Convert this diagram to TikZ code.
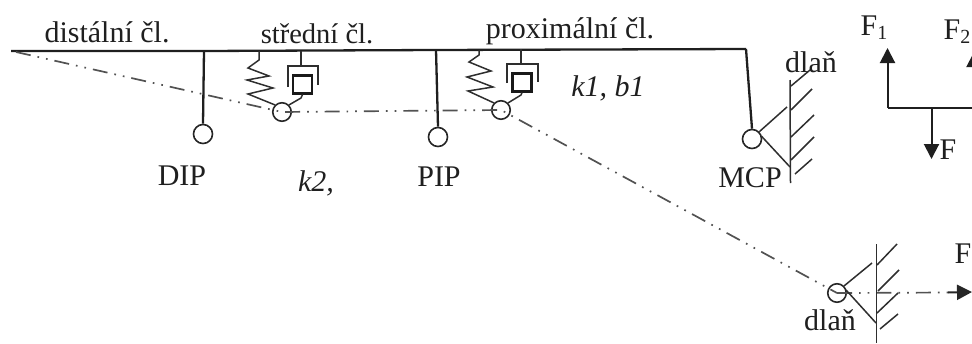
\documentclass[tikz,border=0pt]{standalone}
\usepackage{fontspec}
\setmainfont{Liberation Serif}
\usetikzlibrary{arrows.meta}
\tikzset{
  bar/.style={line width=2.3pt,draw=black!88},
  thin part/.style={line width=1.5pt,draw=black!82},
  joint/.style={circle,draw=black!85,line width=1.6pt,minimum size=19pt,inner sep=0pt,fill=none},
  txt/.style={inner sep=0pt,text=black!88,font=\fontsize{30}{32}\selectfont},
  itxt/.style={txt,font=\fontsize{30}{32}\selectfont\itshape},
  axis/.style={line width=1.7pt,draw=black!68,dash pattern=on 15pt off 7pt on 1.7pt off 7pt on 1.7pt off 7pt},
  force/.style={line width=2pt,draw=black!88,-{Triangle[length=15pt,width=15pt]}},
  boxd/.style={draw=black!90,line width=2.1pt,minimum width=19pt,minimum height=18pt,inner sep=0pt,fill=none}
}
\newcommand{\subf}[1]{\raisebox{-4pt}{\fontsize{20}{21}\selectfont #1}}
\begin{document}
\begin{tikzpicture}[x=1pt,y=-1pt]
\useasboundingbox (0,0) rectangle (972,343);
\clip (0,0) rectangle (972,343);
% named points
\coordinate (tip) at (11,51);
\coordinate (dtop) at (204,51);
\coordinate (ptop) at (436,50);
\coordinate (mtop) at (746,49);
\node[joint] (dip) at (203,134) {};
\node[joint] (pip) at (438,137) {};
\node[joint] (mcp) at (752,139) {};
\node[joint,minimum size=18.5pt] (c2) at (282,112) {};
\node[joint,minimum size=18.5pt] (c1) at (501,110) {};
\node[joint,minimum size=18.5pt] (palm) at (837,293) {};
\coordinate (ftip) at (972,292);
% bars
\draw[bar] (tip) -- (dtop) -- (ptop) -- (mtop);
\draw[bar] (dtop) -- (dip.north);
\draw[bar] (ptop) -- (pip.north);
\draw[bar] (mtop) -- (mcp.north);
% dash-dot axis
\draw[axis] (tip) ++(5,1) -- (c2.center) -- (c1.center) -- (palm.center);
\draw[axis] (palm.center) -- (950,292.5);
\draw[force,draw=black!85] (948,292.5) -- (ftip);
% spring & damper 2
\draw[thin part] (259,51) -- (259,60) -- (248,68) -- (269,76) -- (247,80) -- (273,88) -- (248,94) -- (c2.north west);
\draw[thin part] (301,51) -- (301,66);
\draw[thin part] (288,87) -- (288,66) -- (318,66) -- (318,85);
\node[boxd] (d2) at (302.5,84.5) {};
\draw[thin part] (d2.south) -- (301,98) -- (c2.north east);
% spring & damper 1
\draw[thin part] (479,50) -- (479,55) -- (469,62) -- (491,71) -- (467,77) -- (493,87) -- (468,91) -- (c1.north west);
\draw[thin part] (521,49) -- (521,64);
\draw[thin part] (507,83) -- (507,64) -- (538,64) -- (538,82);
\node[boxd] (d1) at (522,82.5) {};
\draw[thin part] (d1.south) -- (521,95) -- (c1.north east);
% MCP wall
\coordinate (w1a) at (790,80);
\coordinate (w1b) at (790.5,183);
\draw[thin part] (w1a) -- (w1b);
\draw[thin part] (mcp.north east) -- (787,107);
\draw[thin part] (mcp.east) ++(-1,-3) -- (790,167);
\foreach \a/\b/\c/\d in {791/86/810/70, 791/110/812/89, 791/137/814/115, 791/160/814/137, 795/174/812/159}
  \draw[thin part] (\a,\b) -- (\c,\d);
% palm wall
\coordinate (w2a) at (876.5,244);
\coordinate (w2b) at (876.5,343);
\draw[thin part] (w2a) -- (w2b);
\draw[thin part] (palm.north east) -- (872,263);
\draw[thin part] (palm.east) ++(-1,-3) -- (876,323);
\foreach \a/\b/\c/\d in {877/265/897/244, 878/291/899/270, 877/313/898/293, 880/329/898/314}
  \draw[thin part] (\a,\b) -- (\c,\d);
% forces
\coordinate (fa) at (887.5,107.5);
\coordinate (fb) at (972,107.5);
\coordinate (fc) at (931.5,107.5);
\draw[force] (fa) -- (887.5,48);
\draw[line width=2pt,draw=black!88] (fa) -- (fb);
\draw[force] (fc) -- (931.5,159);
\draw[force] (fb) ++(2,0) -- (974,52);
% labels
\node[txt] (l1) at (107,32) {distální čl.};
\node[txt,font=\fontsize{28.5}{31}\selectfont] (l2) at (317,34) {střední čl.};
\node[txt] (l3) at (570,31) {proximální čl.};
\node[itxt] (l4) at (608,88) {k1, b1};
\node[itxt] (l5) at (316,183) {k2,};
\node[txt] (l6) at (182,176) {DIP};
\node[txt] (l7) at (439,177) {PIP};
\node[txt] (l8) at (750,178) {MCP};
\node[txt] (l9) at (811,62) {dlaň};
\node[txt] (l10) at (830,320) {dlaň};
\node[txt] (l11) at (874,28) {F\subf{1}};
\node[txt] (l12) at (957,32) {F\subf{2}};
\node[txt] (l13) at (948,150) {F};
\node[txt] (l14) at (963,254) {F};
\end{tikzpicture}
\end{document}
